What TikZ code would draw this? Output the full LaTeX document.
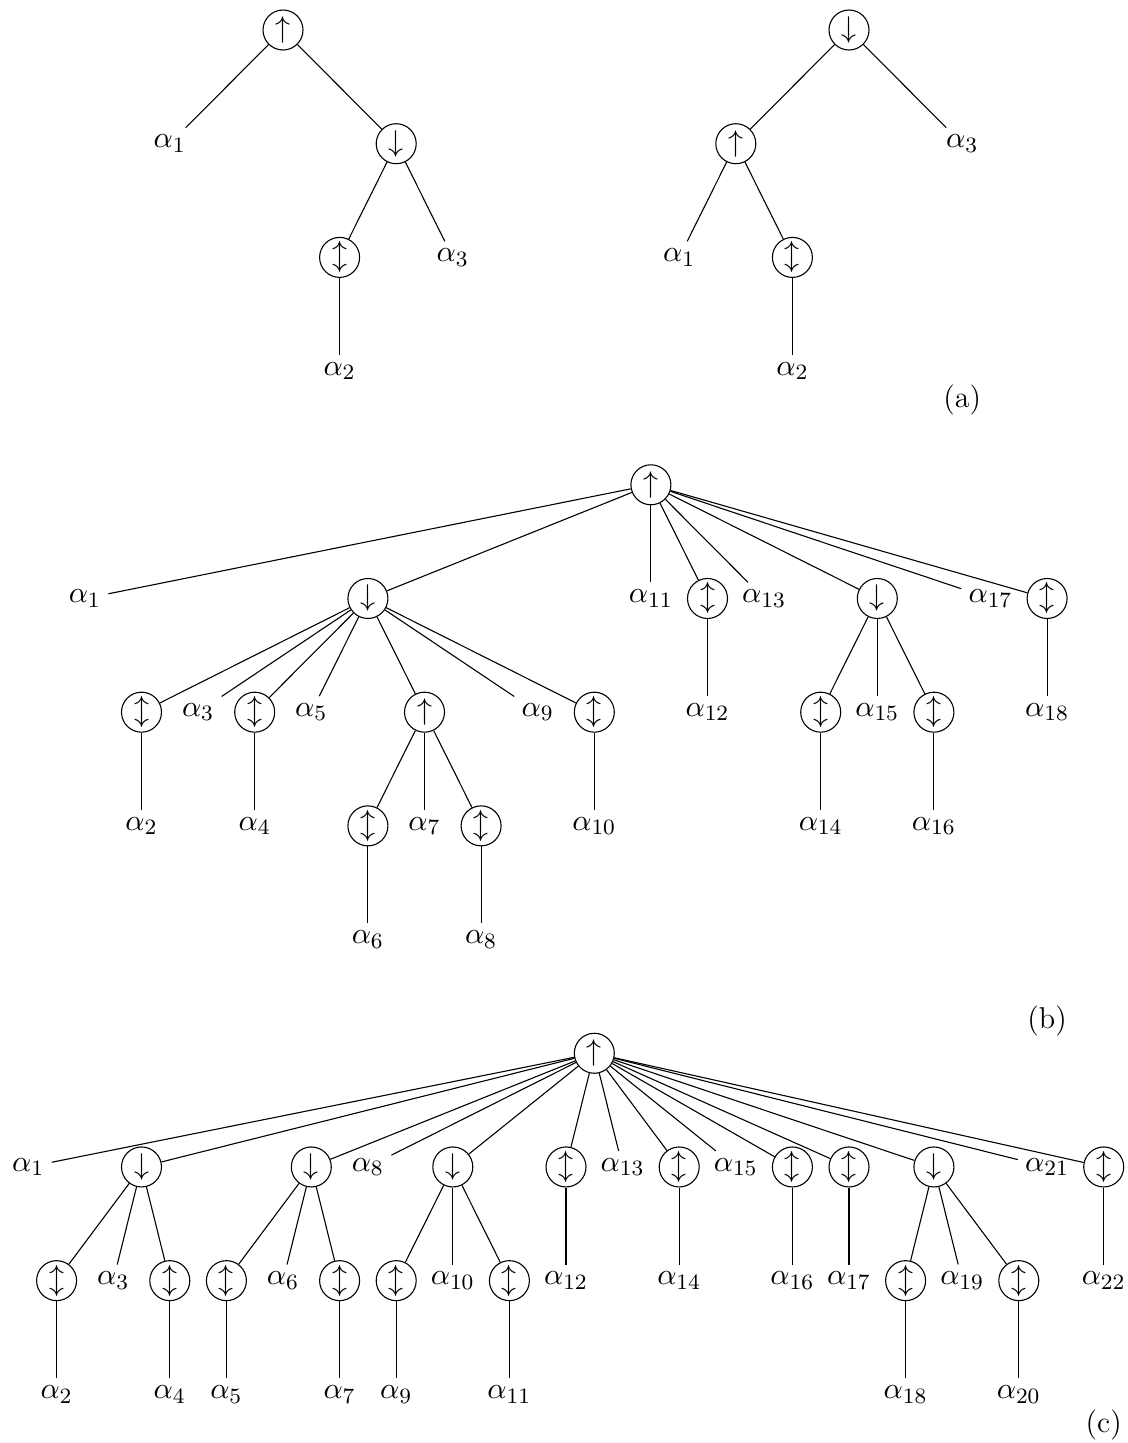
\documentclass[tikz,border=0pt]{standalone}

\tikzset{
  op/.style={circle,draw,minimum size=14.6pt,inner sep=0pt},
  leaf/.style={inner sep=2.5pt}
}

\begin{document}
\begin{tikzpicture}[x=20.66pt,y=-41.5pt,font=\fontsize{11}{13}\selectfont]
  \useasboundingbox (0,-0.264) rectangle (19.912,12.428);

  \node [op] (al-top) at (5,0) {$\uparrow$};
  \node [leaf] (al-a1) at (3,1) {$\alpha_1$};
  \node [op] (al-dn) at (7,1) {$\downarrow$};
  \node [op] (al-s2) at (6,2) {$\updownarrow$};
  \node [leaf] (al-a3) at (8,2) {$\alpha_3$};
  \node [leaf] (al-a2) at (6,3) {$\alpha_2$};
  \draw (al-top) -- (al-a1);
  \draw (al-top) -- (al-dn);
  \draw (al-dn) -- (al-s2);
  \draw (al-dn) -- (al-a3);
  \draw (al-s2) -- (al-a2);

  \node [op] (ar-top) at (15,0) {$\downarrow$};
  \node [op] (ar-up) at (13,1) {$\uparrow$};
  \node [leaf] (ar-a3) at (17,1) {$\alpha_3$};
  \node [leaf] (ar-a1) at (12,2) {$\alpha_1$};
  \node [op] (ar-s2) at (14,2) {$\updownarrow$};
  \node [leaf] (ar-a2) at (14,3) {$\alpha_2$};
  \draw (ar-top) -- (ar-up);
  \draw (ar-top) -- (ar-a3);
  \draw (ar-up) -- (ar-a1);
  \draw (ar-up) -- (ar-s2);
  \draw (ar-s2) -- (ar-a2);

  \node (a-tag) at (17,3.25) {(a)};

  \node [op] (b-top) at (11.5,4) {$\uparrow$};

  \node [leaf] (b-a1) at (1.5,5) {$\alpha_1$};
  \node [op] (b-dn1) at (6.5,5) {$\downarrow$};
  \node [leaf] (b-a11) at (11.5,5) {$\alpha_{11}$};
  \node [op] (b-s12) at (12.5,5) {$\updownarrow$};
  \node [leaf] (b-a13) at (13.5,5) {$\alpha_{13}$};
  \node [op] (b-dn2) at (15.5,5) {$\downarrow$};
  \node [leaf] (b-a17) at (17.5,5) {$\alpha_{17}$};
  \node [op] (b-s18) at (18.5,5) {$\updownarrow$};

  \node [op] (b-s2) at (2.5,6) {$\updownarrow$};
  \node [leaf] (b-a3) at (3.5,6) {$\alpha_3$};
  \node [op] (b-s4) at (4.5,6) {$\updownarrow$};
  \node [leaf] (b-a5) at (5.5,6) {$\alpha_5$};
  \node [op] (b-up) at (7.5,6) {$\uparrow$};
  \node [leaf] (b-a9) at (9.5,6) {$\alpha_9$};
  \node [op] (b-s10) at (10.5,6) {$\updownarrow$};
  \node [leaf] (b-a12) at (12.5,6) {$\alpha_{12}$};
  \node [op] (b-s14) at (14.5,6) {$\updownarrow$};
  \node [leaf] (b-a15) at (15.5,6) {$\alpha_{15}$};
  \node [op] (b-s16) at (16.5,6) {$\updownarrow$};
  \node [leaf] (b-a18) at (18.5,6) {$\alpha_{18}$};

  \node [leaf] (b-a2) at (2.5,7) {$\alpha_2$};
  \node [leaf] (b-a4) at (4.5,7) {$\alpha_4$};
  \node [op] (b-s6) at (6.5,7) {$\updownarrow$};
  \node [leaf] (b-a7) at (7.5,7) {$\alpha_7$};
  \node [op] (b-s8) at (8.5,7) {$\updownarrow$};
  \node [leaf] (b-a10) at (10.5,7) {$\alpha_{10}$};
  \node [leaf] (b-a14) at (14.5,7) {$\alpha_{14}$};
  \node [leaf] (b-a16) at (16.5,7) {$\alpha_{16}$};

  \node [leaf] (b-a6) at (6.5,8) {$\alpha_6$};
  \node [leaf] (b-a8) at (8.5,8) {$\alpha_8$};

  \draw (b-top) -- (b-a1);  \draw (b-top) -- (b-dn1);
  \draw (b-top) -- (b-a11); \draw (b-top) -- (b-s12);
  \draw (b-top) -- (b-a13); \draw (b-top) -- (b-dn2);
  \draw (b-top) -- (b-a17); \draw (b-top) -- (b-s18);

  \draw (b-dn1) -- (b-s2);  \draw (b-dn1) -- (b-a3);
  \draw (b-dn1) -- (b-s4);  \draw (b-dn1) -- (b-a5);
  \draw (b-dn1) -- (b-up);  \draw (b-dn1) -- (b-a9);
  \draw (b-dn1) -- (b-s10);
  \draw (b-up) -- (b-s6);   \draw (b-up) -- (b-a7);
  \draw (b-up) -- (b-s8);
  \draw (b-dn2) -- (b-s14); \draw (b-dn2) -- (b-a15);
  \draw (b-dn2) -- (b-s16);

  \draw (b-s2) -- (b-a2);   \draw (b-s4) -- (b-a4);
  \draw (b-s6) -- (b-a6);   \draw (b-s8) -- (b-a8);
  \draw (b-s10) -- (b-a10); \draw (b-s12) -- (b-a12);
  \draw (b-s14) -- (b-a14); \draw (b-s16) -- (b-a16);
  \draw (b-s18) -- (b-a18);

  \node (b-tag) at (18.5,8.72) {(b)};

  \node [op] (c-top) at (10.5,9) {$\uparrow$};

  \node [leaf] (c-a1) at (0.5,10) {$\alpha_1$};
  \node [op] (c-dn1) at (2.5,10) {$\downarrow$};
  \node [op] (c-dn2) at (5.5,10) {$\downarrow$};
  \node [leaf] (c-a8) at (6.5,10) {$\alpha_8$};
  \node [op] (c-dn3) at (8,10) {$\downarrow$};
  \node [op] (c-s12) at (10,10) {$\updownarrow$};
  \node [leaf] (c-a13) at (11,10) {$\alpha_{13}$};
  \node [op] (c-s14) at (12,10) {$\updownarrow$};
  \node [leaf] (c-a15) at (13,10) {$\alpha_{15}$};
  \node [op] (c-s16) at (14,10) {$\updownarrow$};
  \node [op] (c-s17) at (15,10) {$\updownarrow$};
  \node [op] (c-dn4) at (16.5,10) {$\downarrow$};
  \node [leaf] (c-a21) at (18.5,10) {$\alpha_{21}$};
  \node [op] (c-s22) at (19.5,10) {$\updownarrow$};

  \node [op] (c-s2) at (1,11) {$\updownarrow$};
  \node [leaf] (c-a3) at (2,11) {$\alpha_3$};
  \node [op] (c-s4) at (3,11) {$\updownarrow$};
  \node [op] (c-s5) at (4,11) {$\updownarrow$};
  \node [leaf] (c-a6) at (5,11) {$\alpha_6$};
  \node [op] (c-s7) at (6,11) {$\updownarrow$};
  \node [op] (c-s9) at (7,11) {$\updownarrow$};
  \node [leaf] (c-a10) at (8,11) {$\alpha_{10}$};
  \node [op] (c-s11) at (9,11) {$\updownarrow$};
  \node [leaf] (c-a12) at (10,11) {$\alpha_{12}$};
  \node [leaf] (c-a14) at (12,11) {$\alpha_{14}$};
  \node [leaf] (c-a16) at (14,11) {$\alpha_{16}$};
  \node [leaf] (c-a17) at (15,11) {$\alpha_{17}$};
  \node [op] (c-s18) at (16,11) {$\updownarrow$};
  \node [leaf] (c-a19) at (17,11) {$\alpha_{19}$};
  \node [op] (c-s20) at (18,11) {$\updownarrow$};
  \node [leaf] (c-a22) at (19.5,11) {$\alpha_{22}$};

  \node [leaf] (c-a2) at (1,12) {$\alpha_2$};
  \node [leaf] (c-a4) at (3,12) {$\alpha_4$};
  \node [leaf] (c-a5) at (4,12) {$\alpha_5$};
  \node [leaf] (c-a7) at (6,12) {$\alpha_7$};
  \node [leaf] (c-a9) at (7,12) {$\alpha_9$};
  \node [leaf] (c-a11) at (9,12) {$\alpha_{11}$};
  \node [leaf] (c-a18) at (16,12) {$\alpha_{18}$};
  \node [leaf] (c-a20) at (18,12) {$\alpha_{20}$};

  \draw (c-top) -- (c-a1);  \draw (c-top) -- (c-dn1);
  \draw (c-top) -- (c-dn2); \draw (c-top) -- (c-a8);
  \draw (c-top) -- (c-dn3); \draw (c-top) -- (c-s12);
  \draw (c-top) -- (c-a13); \draw (c-top) -- (c-s14);
  \draw (c-top) -- (c-a15); \draw (c-top) -- (c-s16);
  \draw (c-top) -- (c-s17); \draw (c-top) -- (c-dn4);
  \draw (c-top) -- (c-a21); \draw (c-top) -- (c-s22);

  \draw (c-dn1) -- (c-s2);  \draw (c-dn1) -- (c-a3);  \draw (c-dn1) -- (c-s4);
  \draw (c-dn2) -- (c-s5);  \draw (c-dn2) -- (c-a6);  \draw (c-dn2) -- (c-s7);
  \draw (c-dn3) -- (c-s9);  \draw (c-dn3) -- (c-a10); \draw (c-dn3) -- (c-s11);
  \draw (c-dn4) -- (c-s18); \draw (c-dn4) -- (c-a19); \draw (c-dn4) -- (c-s20);

  \draw (c-s2) -- (c-a2);   \draw (c-s4) -- (c-a4);
  \draw (c-s5) -- (c-a5);   \draw (c-s7) -- (c-a7);
  \draw (c-s9) -- (c-a9);   \draw (c-s11) -- (c-a11);
  \draw (c-s12) -- (c-a12); \draw (c-s14) -- (c-a14);
  \draw (c-s16) -- (c-a16); \draw (c-s17) -- (c-a17);
  \draw (c-s18) -- (c-a18); \draw (c-s20) -- (c-a20);
  \draw (c-s22) -- (c-a22);

  \node (c-tag) at (19.5,12.27) {(c)};
\end{tikzpicture}
\end{document}
